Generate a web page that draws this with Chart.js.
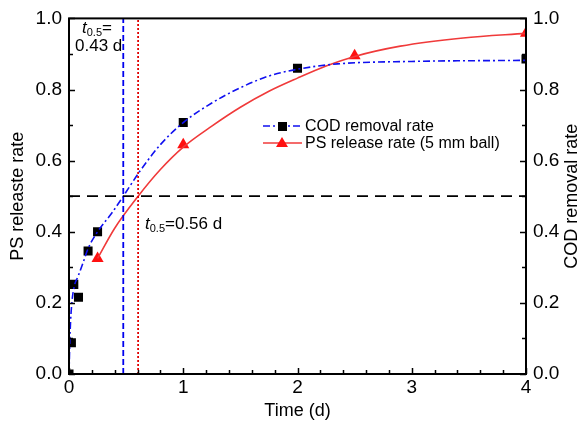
<!DOCTYPE html>
<html>
<head>
<meta charset="utf-8">
<script src="https://cdn.jsdelivr.net/npm/chart.js@4.4.1/dist/chart.umd.min.js"></script>
<style>
  html, body { margin: 0; padding: 0; background: #fff; }
  #wrap { width: 582px; height: 425px; }
</style>
</head>
<body>
<div id="wrap"><canvas id="chart" width="582" height="425"></canvas></div>
<script>
// measured points
const codTime = [0, 0.021, 0.042, 0.083, 0.167, 0.25, 1, 2, 4];
const codRate = [0.0, 0.088, 0.252, 0.216, 0.346, 0.40, 0.707, 0.86, 0.886];
const psTime = [0.25, 1, 2.5, 4];
const psRate = [0.325, 0.645, 0.895, 0.958];

// fitted curves
const codFitTime = [0, 0.01, 0.025, 0.045, 0.08, 0.12, 0.17, 0.25, 0.38, 0.475, 0.62, 0.8, 1, 1.25, 1.5, 1.75, 2, 2.35, 3, 4];
const codFitRate = [0, 0.12, 0.2, 0.245, 0.275, 0.31, 0.355, 0.40, 0.455, 0.5, 0.57, 0.645, 0.707, 0.762, 0.805, 0.838, 0.857, 0.872, 0.879, 0.882];
const psFitTime = [0.25, 0.4, 0.605, 0.8, 1, 1.25, 1.5, 1.75, 2, 2.25, 2.5, 2.9, 3.45, 4];
const psFitRate = [0.325, 0.41, 0.5, 0.575, 0.638, 0.697, 0.75, 0.795, 0.832, 0.866, 0.893, 0.922, 0.945, 0.958];

// half-time markers
const halfLevel = 0.5;
const codHalfTime = 0.475;
const psHalfTime = 0.605;

const xTicks = [0, 1, 2, 3, 4];
const yTicks = [0, 0.2, 0.4, 0.6, 0.8, 1.0];

const FONT = "Arial, 'Liberation Sans', sans-serif";
const BLUE = '#1010f0';
const RED = '#f03a3a';

const toXY = (xs, ys) => xs.map((x, i) => ({ x: x, y: ys[i] }));

const frameTicks = {
    id: 'frameTicks',
    afterDatasetsDraw(chart) {
        const { ctx, chartArea: a, scales } = chart;
        ctx.save();
        ctx.strokeStyle = '#000';
        ctx.lineWidth = 2;
        ctx.strokeRect(a.left, a.top, a.right - a.left, a.bottom - a.top);
        ctx.lineWidth = 1.5;
        ctx.beginPath();
        for (let v = 0; v <= 4.0001; v += 0.2) {
            const px = Math.round(scales.x.getPixelForValue(v)) + 0.5;
            const major = Math.abs(v - Math.round(v)) < 1e-6;
            const len = major ? 6 : 4;
            ctx.moveTo(px, a.bottom);
            ctx.lineTo(px, a.bottom - len);
        }
        for (let v = 0; v <= 1.0001; v += 0.1) {
            const py = Math.round(scales.y.getPixelForValue(v)) + 0.5;
            const major = Math.round(v * 10) % 2 === 0;
            const len = major ? 6 : 4;
            ctx.moveTo(a.left, py);
            ctx.lineTo(a.left + len, py);
            ctx.moveTo(a.right, py);
            ctx.lineTo(a.right - len, py);
        }
        ctx.stroke();

        // right axis title, reading bottom to top like the left one
        ctx.fillStyle = '#000';
        ctx.save();
        ctx.translate(572, (a.top + a.bottom) / 2);
        ctx.rotate(-Math.PI / 2);
        ctx.font = '18px ' + FONT;
        ctx.textAlign = 'center';
        ctx.textBaseline = 'middle';
        ctx.fillText('COD removal rate', 0, 0);
        ctx.restore();

        // half-time labels
        ctx.textBaseline = 'alphabetic';
        const tlabel = (x, y, rest) => {
            ctx.font = 'italic 17px ' + FONT;
            ctx.fillText('t', x, y);
            let w = ctx.measureText('t').width;
            ctx.font = '11px ' + FONT;
            ctx.fillText('0.5', x + w, y + 3);
            w += ctx.measureText('0.5').width;
            ctx.font = '17px ' + FONT;
            ctx.fillText(rest, x + w, y);
        };
        ctx.textAlign = 'left';
        tlabel(82, 33, '=');
        ctx.font = '17px ' + FONT;
        ctx.fillText('0.43 d', 75, 51);
        tlabel(145, 229, '=0.56 d');

        // legend
        const items = [
            { y: 126, color: BLUE, dash: [7, 3, 2, 3], text: 'COD removal rate', marker: 'rect' },
            { y: 143, color: RED, dash: [], text: 'PS release rate (5 mm ball)', marker: 'triangle' }
        ];
        items.forEach(it => {
            ctx.strokeStyle = it.color;
            ctx.lineWidth = 1.6;
            ctx.setLineDash(it.dash);
            ctx.beginPath();
            ctx.moveTo(263, it.y);
            ctx.lineTo(302, it.y);
            ctx.stroke();
            ctx.setLineDash([]);
            if (it.marker === 'rect') {
                ctx.fillStyle = '#000';
                ctx.fillRect(278, it.y - 4, 9, 9);
            } else {
                ctx.fillStyle = '#ff1010';
                ctx.beginPath();
                ctx.moveTo(282, it.y - 6);
                ctx.lineTo(288, it.y + 4);
                ctx.lineTo(276, it.y + 4);
                ctx.closePath();
                ctx.fill();
            }
            ctx.fillStyle = '#000';
            ctx.font = '16px ' + FONT;
            ctx.textBaseline = 'middle';
            ctx.fillText(it.text, 305, it.y + 1);
        });
        ctx.restore();
    }
};

new Chart(document.getElementById('chart'), {
    type: 'line',
    data: {
        datasets: [
            {
                label: 'half level',
                data: toXY([0, 4], [halfLevel, halfLevel]),
                borderColor: '#000',
                borderWidth: 1.8,
                borderDash: [11, 7],
                pointRadius: 0,
                yAxisID: 'y'
            },
            {
                label: 'COD t0.5',
                data: toXY([codHalfTime, codHalfTime], [0, 1]),
                borderColor: '#0000ee',
                borderWidth: 1.8,
                borderDash: [6, 3],
                pointRadius: 0,
                yAxisID: 'y'
            },
            {
                label: 'PS t0.5',
                data: toXY([psHalfTime, psHalfTime], [0, 1]),
                borderColor: '#e00000',
                borderWidth: 1.8,
                borderDash: [2, 2],
                pointRadius: 0,
                yAxisID: 'y'
            },
            {
                label: 'COD fit',
                data: toXY(codFitTime, codFitRate),
                borderColor: BLUE,
                borderWidth: 1.6,
                borderDash: [7, 3, 2, 3],
                cubicInterpolationMode: 'monotone',
                pointRadius: 0,
                yAxisID: 'y2'
            },
            {
                label: 'PS fit',
                data: toXY(psFitTime, psFitRate),
                borderColor: RED,
                borderWidth: 1.6,
                cubicInterpolationMode: 'monotone',
                pointRadius: 0,
                yAxisID: 'y'
            },
            {
                label: 'COD removal rate',
                data: toXY(codTime, codRate),
                showLine: false,
                pointStyle: 'rect',
                pointRadius: 6.4,
                pointBackgroundColor: '#000',
                pointBorderColor: '#000',
                pointBorderWidth: 0,
                yAxisID: 'y2'
            },
            {
                label: 'PS release rate (5 mm ball)',
                data: toXY(psTime, psRate),
                showLine: false,
                pointStyle: 'triangle',
                pointRadius: 7,
                pointBackgroundColor: '#ff1010',
                pointBorderColor: '#ff1010',
                pointBorderWidth: 0,
                yAxisID: 'y'
            }
        ]
    },
    options: {
        responsive: false,
        animation: false,
        events: [],
        layout: { padding: { top: 12, left: 0, right: 0, bottom: 0 } },
        plugins: {
            legend: { display: false },
            tooltip: { enabled: false }
        },
        scales: {
            x: {
                type: 'linear',
                min: 0,
                max: 4,
                afterFit: s => { s.height = 51; },
                afterBuildTicks: s => { s.ticks = xTicks.map(v => ({ value: v })); },
                grid: { display: false, drawTicks: false },
                border: { display: false },
                ticks: { color: '#000', font: { family: FONT, size: 19 }, padding: 2, maxRotation: 0 },
                title: { display: true, text: 'Time (d)', color: '#000', font: { family: FONT, size: 18 }, padding: { top: 0, bottom: 3 } }
            },
            y: {
                position: 'left',
                min: 0,
                max: 1,
                afterFit: s => { s.width = 69; },
                afterBuildTicks: s => { s.ticks = yTicks.map(v => ({ value: v })); },
                grid: { display: false, drawTicks: false },
                border: { display: false },
                ticks: { color: '#000', font: { family: FONT, size: 19 }, padding: 7, callback: v => v.toFixed(1) },
                title: { display: true, text: 'PS releaste rate', color: '#000', font: { family: FONT, size: 18 }, padding: { top: 7, bottom: 0 } }
            },
            y2: {
                position: 'right',
                min: 0,
                max: 1,
                afterFit: s => { s.width = 56; },
                afterBuildTicks: s => { s.ticks = yTicks.map(v => ({ value: v })); },
                grid: { display: false, drawTicks: false },
                border: { display: false },
                ticks: { color: '#000', font: { family: FONT, size: 19 }, padding: 7, callback: v => v.toFixed(1) },
                title: { display: false }
            }
        }
    },
    plugins: [frameTicks]
});
</script>
</body>
</html>
